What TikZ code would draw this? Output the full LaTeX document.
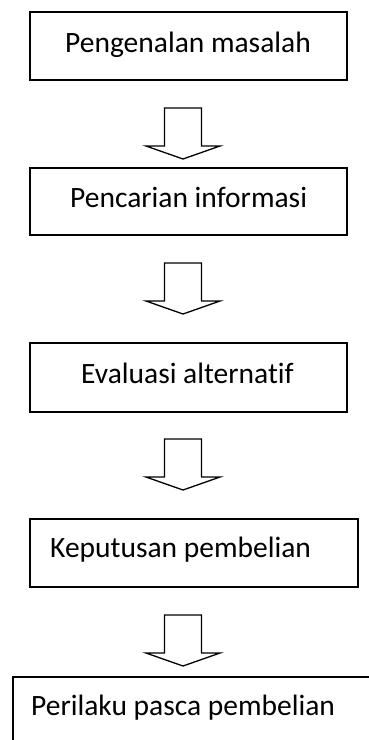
\documentclass[tikz,border=0pt]{standalone}
\usepackage{fontspec}
\setmainfont[Ligatures=CommonOff]{Carlito}
\begin{document}
\begin{tikzpicture}[x=1pt,y=-1pt,
  boxline/.style={draw=black,line width=1.3pt},
  label/.style={anchor=base west,inner sep=0pt,font=\fontsize{29.5}{31}\selectfont},
  downarrow/.pic={\draw[line width=1.3pt,line join=miter] (-18.5,0) -- (18.5,0) -- (18.5,38) -- (37,38) -- (0,51) -- (-37,38) -- (-18.5,38) -- cycle;}]
\useasboundingbox (0,0) rectangle (369,740);
\clip (0,0) rectangle (369,740);
\fill[white] (0,0) rectangle (369,740);
% boxes
\draw[boxline] (30,12) rectangle (347,80);
\draw[boxline] (30,168) rectangle (347,235);
\draw[boxline] (30,343) rectangle (347,412);
\draw[boxline] (30,519) rectangle (358,587);
\draw[boxline] (13,677) rectangle (385,760);
% texts
\node[label] (t1) at (65,52) {Pengenalan masalah};
\node[label] (t2) at (70,207) {Pencarian informasi};
\node[label] (t3) at (81,383) {Evaluasi alternatif};
\node[label] (t4) at (50,557) {Keputusan pembelian};
\node[label] (t5) at (31,715) {Perilaku pasca pembelian};
% arrows
\pic at (183,108) {downarrow};
\pic at (183,263) {downarrow};
\pic at (183,439) {downarrow};
\pic at (183,615) {downarrow};
\end{tikzpicture}
\end{document}
